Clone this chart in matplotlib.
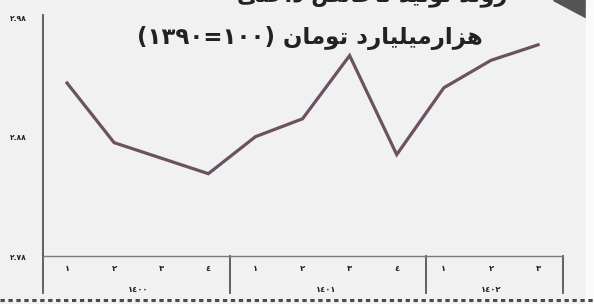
import numpy as np
import matplotlib.pyplot as plt
from matplotlib.lines import Line2D
from matplotlib.patches import Polygon, Rectangle

# داده‌ها: شاخص فصلی (هزارمیلیارد تومان، به قیمت ۱۳۹۰)
quarters = ['۱', '۲', '۳', '٤', '۱', '۲', '۳', '٤', '۱', '۲', '۳']
years = ['۱٤۰۰', '۱٤۰۱', '۱٤۰۲']
year_span = [(0, 3), (4, 7), (8, 10)]
values = [2.925, 2.875, 2.862, 2.849, 2.880, 2.895, 2.948, 2.865, 2.921, 2.944, 2.957]
yticks = [2.78, 2.88, 2.98]
ytick_labels = ['۲.۷۸', '۲.۸۸', '۲.۹۸']

title1 = 'روند تولید ناخالص داخلی'
title2_words = 'هزارمیلیارد تومان'
title2_num = '(۱۳۹۰=۱۰۰)'

# ---- شکل دادن حروف فارسی (matplotlib خودش این کار را نمی‌کند)
FORMS = {
    'ا': ('\uFE8D', '\uFE8E', None, None),
    'ب': ('\uFE8F', '\uFE90', '\uFE91', '\uFE92'),
    'پ': ('\uFB56', '\uFB57', '\uFB58', '\uFB59'),
    'ت': ('\uFE95', '\uFE96', '\uFE97', '\uFE98'),
    'ج': ('\uFE9D', '\uFE9E', '\uFE9F', '\uFEA0'),
    'ح': ('\uFEA1', '\uFEA2', '\uFEA3', '\uFEA4'),
    'خ': ('\uFEA5', '\uFEA6', '\uFEA7', '\uFEA8'),
    'د': ('\uFEA9', '\uFEAA', None, None),
    'ر': ('\uFEAD', '\uFEAE', None, None),
    'ز': ('\uFEAF', '\uFEB0', None, None),
    'س': ('\uFEB1', '\uFEB2', '\uFEB3', '\uFEB4'),
    'ص': ('\uFEB9', '\uFEBA', '\uFEBB', '\uFEBC'),
    'ف': ('\uFED1', '\uFED2', '\uFED3', '\uFED4'),
    'ق': ('\uFED5', '\uFED6', '\uFED7', '\uFED8'),
    'ک': ('\uFB8E', '\uFB8F', '\uFB90', '\uFB91'),
    'ل': ('\uFEDD', '\uFEDE', '\uFEDF', '\uFEE0'),
    'م': ('\uFEE1', '\uFEE2', '\uFEE3', '\uFEE4'),
    'ن': ('\uFEE5', '\uFEE6', '\uFEE7', '\uFEE8'),
    'ه': ('\uFEE9', '\uFEEA', '\uFEEB', '\uFEEC'),
    'و': ('\uFEED', '\uFEEE', None, None),
    'ی': ('\uFBFC', '\uFBFD', '\uFBFE', '\uFBFF'),
}


def joins_next(ch):
    return ch in FORMS and FORMS[ch][2] is not None


def shape(text):
    out = []
    i = 0
    while i < len(text):
        ch = text[i]
        if ch not in FORMS:
            out.append(ch)
            i += 1
            continue
        prev = i > 0 and joins_next(text[i - 1])
        if ch == 'ل' and i + 1 < len(text) and text[i + 1] == 'ا':
            out.append('\uFEFC' if prev else '\uFEFB')
            i += 2
            continue
        nxt = joins_next(ch) and i + 1 < len(text) and text[i + 1] in FORMS
        iso, fin, ini, med = FORMS[ch]
        if prev and nxt:
            out.append(med)
        elif nxt:
            out.append(ini)
        elif prev:
            out.append(fin)
        else:
            out.append(iso)
        i += 1
    return ''.join(out)[::-1]


bg = '#f1f1f1'
line_c = '#6a5262'
txt_c = '#222222'
axis_c = '#7a7a7a'

plt.rcParams['font.family'] = ['DejaVu Sans']
fig = plt.figure(figsize=(5.94, 3.04), dpi=100, facecolor=bg)
ax = fig.add_axes([43 / 594, 1 - 256 / 304, 520 / 594, 241 / 304])
ax.set_facecolor(bg)

x = np.arange(len(values))
ax.plot(x, values, color=line_c, lw=2.3, solid_joinstyle='miter')

ax.set_xlim(-0.51, 10.53)
ax.set_ylim(2.78, 2.982)
ax.set_yticks(yticks)
ax.set_yticklabels(ytick_labels, fontsize=5.5, fontweight='bold', color=txt_c)
ax.tick_params(axis='y', length=0, pad=12)
ax.set_xticks([])
for s in ['top', 'right']:
    ax.spines[s].set_visible(False)
ax.spines['left'].set_color('#555555')
ax.spines['left'].set_linewidth(1.3)
ax.spines['bottom'].set_color(axis_c)
ax.spines['bottom'].set_linewidth(1.0)

# برچسب فصل‌ها و سال‌ها زیر محور
trans = ax.get_xaxis_transform()
for xi, q in zip(x, quarters):
    ax.text(xi, -0.05, q, transform=trans, ha='center', va='center',
            fontsize=6, fontweight='bold', color=txt_c, clip_on=False)
for (a, b), yr in zip(year_span, years):
    ax.text((a + b) / 2, -0.14, yr, transform=trans, ha='center', va='center',
            fontsize=6, fontweight='bold', color=txt_c, clip_on=False)
for xs in [3.45, 7.62, 10.53]:
    ax.plot([xs, xs], [0, -0.155], transform=trans, color='#555555', lw=1.3,
            clip_on=False)
ax.plot([-0.51, -0.51], [0, -0.155], transform=trans, color='#555555', lw=1.3,
        clip_on=False)

# عنوان
fig.text(372 / 594, 1 + 4 / 304, shape(title1), ha='center', va='center',
         fontsize=16, fontweight='bold', color=txt_c)
fig.text(310 / 594, 1 - 38 / 304, title2_num + ' ' + shape(title2_words),
         ha='center', va='center', fontsize=16.5, fontweight='bold', color=txt_c)

# تزئینات
fig.add_artist(Polygon([(553 / 594, 1), (585 / 594, 1), (585 / 594, 1 - 17 / 304)],
                       closed=True, transform=fig.transFigure, color='#555555'))
fig.add_artist(Rectangle((586 / 594, 0), 8 / 594, 1, transform=fig.transFigure,
                         color='#fafafa'))
fig.add_artist(Line2D([0, 1], [1 - 300 / 304] * 2, transform=fig.transFigure,
                      color='#4a4a4a', lw=2.2, linestyle=(0, (1.4, 1.2))))

fig.savefig('out.png', dpi=100, facecolor=bg)
